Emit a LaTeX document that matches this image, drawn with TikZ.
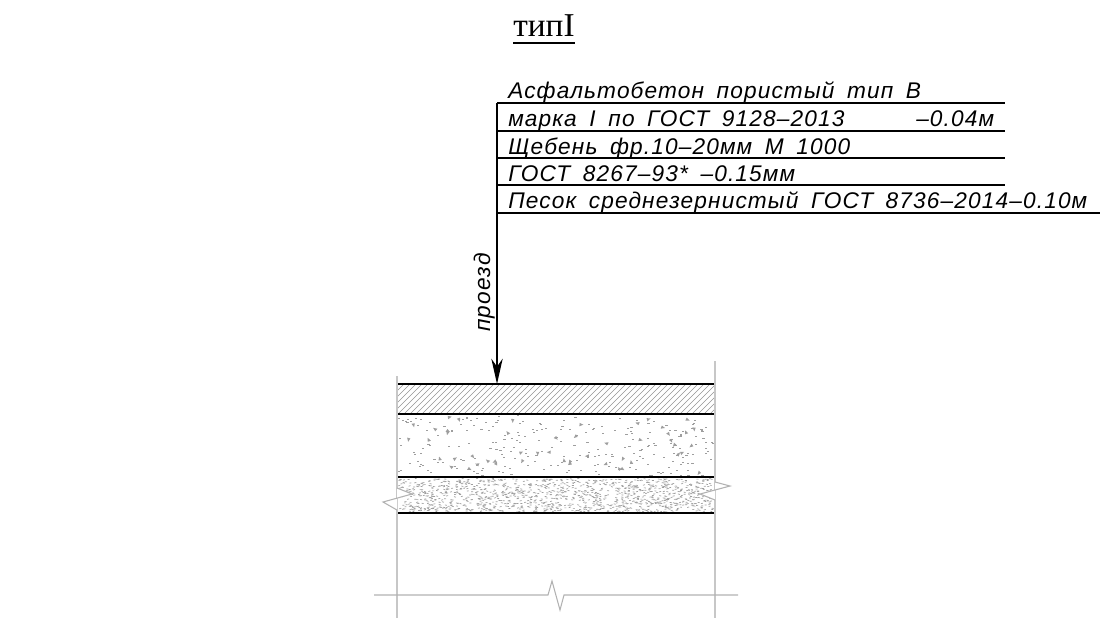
\documentclass[tikz,border=0pt]{standalone}
\usepackage{fontspec}
\setmainfont{Liberation Serif}
\newfontfamily\cadfont[LetterSpace=5,WordSpace=1.7]{Liberation Sans}
\usepackage{xcolor}
\usetikzlibrary{arrows.meta}
\tikzset{
  leader/.style={line width=1.1pt, color=black},
  layerline/.style={line width=1.3pt, color=black},
  thinline/.style={line width=1pt, color=black!22},
  breakline/.style={line width=0.8pt, color=black!30},
  hatchline/.style={line width=0.4pt, color=black!42},
  note/.style={anchor=base west, inner sep=0pt, font=\cadfont\itshape\fontsize{17pt}{17pt}\selectfont},
  speck/.style={fill=black!38},
}
\begin{document}
\begin{tikzpicture}
[every node/.style={inner sep=0pt}]
\useasboundingbox (0pt, 0pt) rectangle (840pt, -464.25pt);
\pgfmathsetseed{4711}
\node (title) [anchor=base, font=\fontsize{25pt}{25pt}\selectfont] at (408pt, -27.5pt) {типI};
\coordinate (titleA) at (384.75pt, -32.25pt);
\coordinate (titleB) at (431.25pt, -32.25pt);
\draw [line width=0.9pt] (titleA) to (titleB);
% leader lines
\coordinate (top) at (372.75pt, -77.25pt);
\coordinate (tip) at (372.75pt, -288pt);
\coordinate (r1) at (753.75pt, -77.25pt);
\coordinate (l2) at (372.75pt, -98.25pt);
\coordinate (r2) at (753.75pt, -98.25pt);
\coordinate (l3) at (372.75pt, -118.5pt);
\coordinate (r3) at (753.75pt, -118.5pt);
\coordinate (l4) at (372.75pt, -138.75pt);
\coordinate (r4) at (753.75pt, -138.75pt);
\coordinate (l5) at (372.75pt, -159.75pt);
\coordinate (r5) at (825pt, -159.75pt);
\draw [leader] (top) to (r1);
\draw [leader] (l2) to (r2);
\draw [leader] (l3) to (r3);
\draw [leader] (l4) to (r4);
\draw [leader] (l5) to (r5);
\draw [leader, -{Stealth[length=19pt, width=8.5pt, inset=6pt]}] (top) to (tip);
\node (t1) [note] at (381pt, -73.5pt) {Асфальтобетон пористый тип В};
\node (t2) [note] at (381pt, -94.5pt) {марка I по ГОСТ 9128–2013};
\node (t2b) [note] at (687pt, -94.5pt) {–0.04м};
\node (t3) [note] at (381pt, -115.5pt) {Щебень фр.10–20мм М 1000};
\node (t4) [note] at (381pt, -135.75pt) {ГОСТ 8267–93* –0.15мм};
\node (t5) [note] at (381pt, -156pt) {Песок среднезернистый ГОСТ 8736–2014–0.10м};
\node (t6) [note, rotate=90] at (367.5pt, -249pt) {проезд};
% hatching and fill of the layers
\begin{scope}
\clip (297.75pt, -288pt) rectangle (536.25pt, -310.5pt);
\foreach \xx in {0,...,60} {
  \draw [hatchline] (270pt+\xx*4.5pt, -312pt) to +(26pt, 26pt);
}
\end{scope}
\foreach \nn in {1,...,240} {
  \pgfmathsetmacro{\px}{297.75+236.5*rnd}
  \pgfmathsetmacro{\py}{-311.5-45.5*rnd}
  \fill [speck] (\px pt, \py pt) rectangle +(1.6pt, -0.5pt);
}
\foreach \nn in {1,...,50} {
  \pgfmathsetmacro{\px}{301+231*rnd}
  \pgfmathsetmacro{\py}{-314-40*rnd}
  \pgfmathsetmacro{\pa}{360*rnd}
  \fill [speck, rotate around={\pa:(\px pt, \py pt)}] (\px pt, \py pt) -- +(3.2pt, 0.7pt) -- +(0.7pt, 2.4pt) -- cycle;
}
\foreach \nn in {1,...,1300} {
  \pgfmathsetmacro{\px}{297.75+237*rnd}
  \pgfmathsetmacro{\py}{-358.75-25*rnd}
  \pgfmathsetmacro{\pa}{40*rnd-20}
  \fill [speck, rotate around={\pa:(\px pt, \py pt)}] (\px pt, \py pt) rectangle +(1.5pt, -0.5pt);
}
% layer borders
\coordinate (a1) at (297.75pt, -288pt);
\coordinate (a2) at (536.25pt, -288pt);
\coordinate (b1) at (297.75pt, -310.5pt);
\coordinate (b2) at (536.25pt, -310.5pt);
\coordinate (c1) at (297.75pt, -357.75pt);
\coordinate (c2) at (536.25pt, -357.75pt);
\coordinate (d1) at (297.75pt, -384.75pt);
\coordinate (d2) at (536.25pt, -384.75pt);
\draw [layerline] (a1) to (a2);
\draw [layerline] (b1) to (b2);
\draw [layerline] (c1) to (c2);
\draw [layerline] (d1) to (d2);
% side lines
\coordinate (sl1) at (297.75pt, -282pt);
\coordinate (sl2) at (297.75pt, -463.5pt);
\coordinate (sr1) at (536.25pt, -270.75pt);
\coordinate (sr2) at (536.25pt, -463.5pt);
\draw [thinline] (sl1) to (sl2);
\draw [thinline] (sr1) to (sr2);
% break marks
\fill [white] (297.75pt, -366pt) -- (309pt, -370.5pt) -- (287.25pt, -376.5pt) -- (297.75pt, -382.5pt) -- (297.75pt, -366pt);
\draw [breakline] (297.75pt, -366pt) -- (309pt, -370.5pt) -- (287.25pt, -376.5pt) -- (297.75pt, -382.5pt);
\fill [white] (536.25pt, -361.5pt) -- (547.5pt, -364.5pt) -- (525pt, -370.5pt) -- (536.25pt, -375pt) -- (536.25pt, -361.5pt);
\draw [breakline] (536.25pt, -361.5pt) -- (547.5pt, -364.5pt) -- (525pt, -370.5pt) -- (536.25pt, -375pt);
% dimension line
\draw [breakline] (280.5pt, -446.25pt) -- (411pt, -446.25pt) -- (414pt, -435.75pt) -- (420pt, -457.5pt) -- (423pt, -446.25pt) -- (553.5pt, -446.25pt);
\end{tikzpicture}
\end{document}
